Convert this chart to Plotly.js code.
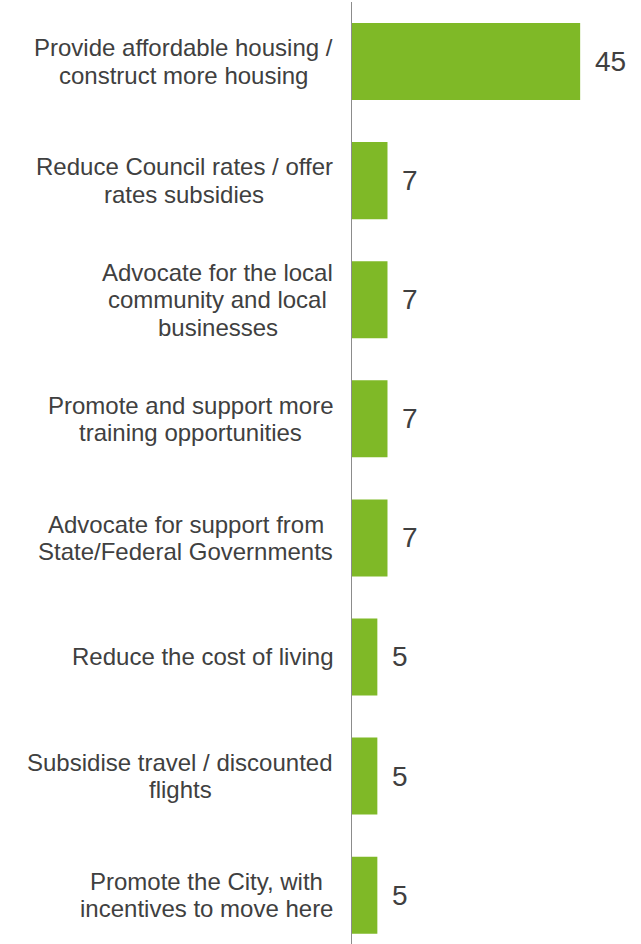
<!DOCTYPE html>
<html>
<head>
<meta charset="utf-8">
<script src="https://cdn.plot.ly/plotly-3.0.1.min.js"></script>
<style>html,body{margin:0;padding:0;background:#fff;overflow:hidden}#chart{width:641px;height:944px}</style>
</head>
<body>
<div id="chart"></div>
<script>
const categories = [
  "Provide affordable housing /<br>construct more housing",
  "Reduce Council rates / offer<br>rates subsidies",
  "Advocate for the local<br>community and local<br>businesses",
  "Promote and support more<br>training opportunities",
  "Advocate for support from<br>State/Federal Governments",
  "Reduce the cost of living",
  "Subsidise travel / discounted<br>flights",
  "Promote the City, with<br>incentives to move here"
];
const values = [45, 7, 7, 7, 7, 5, 5, 5];

const textColor = "#404040";
const font = "Arial, 'Liberation Sans', sans-serif";
const labelSize = 24;
const lineGap = 27.5;
const labelGap = 19; // gap between right edge of label block and axis

const ctx = document.createElement("canvas").getContext("2d");
ctx.font = labelSize + "px " + font;

const annotations = [];
categories.forEach((c, i) => {
  const lines = c.split("<br>");
  const n = lines.length;
  const maxW = Math.max(...lines.map(l => ctx.measureText(l).width));
  lines.forEach((ln, k) => {
    annotations.push({
      x: 0, y: i, xref: "x", yref: "y", text: ln, showarrow: false,
      xanchor: "center", yanchor: "middle", align: "center",
      xshift: -labelGap - maxW / 2,
      yshift: ((n - 1) / 2 - k) * lineGap,
      font: {family: font, size: labelSize, color: textColor}
    });
  });
  annotations.push({
    x: values[i], y: i, xref: "x", yref: "y", text: String(values[i]), showarrow: false,
    xanchor: "left", yanchor: "middle", xshift: 13,
    font: {family: font, size: 28, color: textColor}
  });
});

Plotly.newPlot("chart", [{
  type: "bar", orientation: "h",
  x: values, y: categories.map((c, i) => i),
  width: 0.647,
  marker: {color: "#7FB927", line: {width: 0}},
  hoverinfo: "skip"
}], {
  width: 641, height: 944,
  margin: {l: 352, r: 0, t: 2, b: 0},
  paper_bgcolor: "#fff", plot_bgcolor: "#fff",
  showlegend: false,
  xaxis: {range: [0, 57], showgrid: false, zeroline: false, showticklabels: false, showline: false, ticks: ""},
  yaxis: {range: [7.41, -0.5], showgrid: false, zeroline: false, showticklabels: false, ticks: "",
          showline: true, linecolor: "#8C8C8C", linewidth: 1.5},
  annotations: annotations
}, {displayModeBar: false, staticPlot: true});
</script>
</body>
</html>
